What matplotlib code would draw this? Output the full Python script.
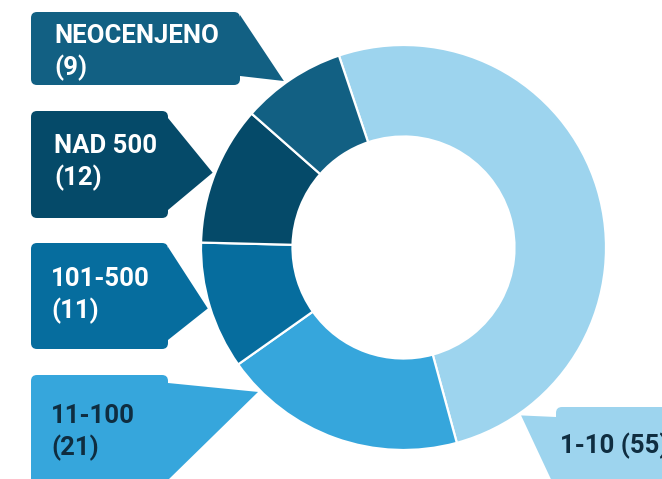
import numpy as np
import matplotlib
matplotlib.use('Agg')
import matplotlib.pyplot as plt
from matplotlib.patches import FancyBboxPatch, Polygon

# data
labels = ['1-10', '11-100', '101-500', 'NAD 500', 'NEOCENJENO']
values = [55, 21, 11, 12, 9]
colors = ['#9dd4ee', '#36a6dc', '#066d9e', '#054a69', '#126083']
text_colors = ['#0f2d40', '#0f2d40', 'white', 'white', 'white']

W, H = 662, 479
cx, cy = 403.5, H - 247.5
R = 202.5
hole = 111

# callout layout in pixel coords (top-down): box x0, y0, x1, y1, pointer base y's, tip angle
boxes = {
    'NEOCENJENO': (31, 12, 240, 85, 15, 76, 125.7),
    'NAD 500': (31, 111, 168, 218, 118, 210, 158.6),
    '101-500': (31, 243, 168, 349, 247, 340, -162.7),
    '11-100': (31, 375, 168, 500, 383, 480, -135.2),
    '1-10': (556, 407, 700, 520, 417, 490, -55.0),
}
text_pos = {
    'NEOCENJENO': (54, 43),
    'NAD 500': (54, 153),
    '101-500': (51, 286),
    '11-100': (51, 423),
    '1-10': (560, 453),
}
fs = 18.5

fig = plt.figure(figsize=(W / 100, H / 100), dpi=100)
ax = fig.add_axes([0, 0, 1, 1])

ax.pie(values, colors=colors, startangle=108.6, counterclock=False,
       center=(cx, cy), radius=R, frame=True,
       wedgeprops=dict(width=R - hole, edgecolor='white', linewidth=1.6))
ax.set_xlim(0, W)
ax.set_ylim(0, H)
ax.set_aspect('equal')
ax.axis('off')

for lab, val, col, tcol in zip(labels, values, colors, text_colors):
    x0, y0, x1, y1, b0, b1, ang = boxes[lab]
    box = FancyBboxPatch((x0, H - y1), x1 - x0, y1 - y0,
                         boxstyle='round,pad=0,rounding_size=6',
                         facecolor=col, edgecolor='none', zorder=3)
    ax.add_patch(box)
    tip_r = 205
    tx = cx + tip_r * np.cos(np.radians(ang))
    ty = cy + tip_r * np.sin(np.radians(ang))
    bx = x1 if x1 < cx else x0
    ax.add_patch(Polygon([(bx, H - b0), (tx, ty), (bx, H - b1)],
                         closed=True, facecolor=col, edgecolor='none', zorder=3))
    px, py = text_pos[lab]
    if lab == '1-10':
        ax.text(px, H - py, f'{lab} ({val})', color=tcol, fontsize=fs,
                fontweight='bold', family='Roboto', va='baseline', zorder=4)
    else:
        ax.text(px, H - py, lab, color=tcol, fontsize=fs,
                fontweight='bold', family='Roboto', va='baseline', zorder=4)
        ax.text(px, H - py - 32, f'({val})', color=tcol, fontsize=fs,
                fontweight='bold', family='Roboto', va='baseline', zorder=4)

fig.savefig('out.png', dpi=100)
